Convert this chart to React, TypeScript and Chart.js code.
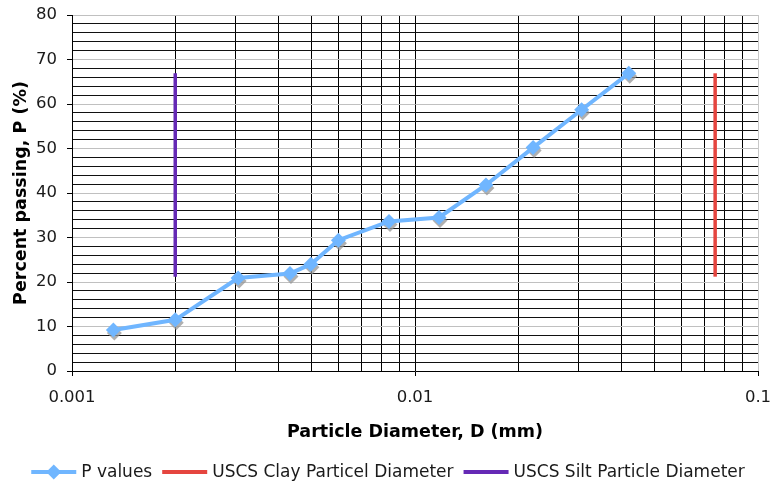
import React, { useEffect, useRef } from "react";
import { Chart, registerables } from "chart.js";

Chart.register(...registerables);

// ---- data ----
const diameters = [0.00132, 0.002, 0.00305, 0.00432, 0.00497, 0.00598, 0.0084, 0.01175, 0.0161, 0.0221, 0.0306, 0.042];
const pValues = [9.2, 11.5, 20.9, 21.9, 24.0, 29.4, 33.6, 34.5, 41.8, 50.2, 58.7, 66.9];
const clayX = [0.075, 0.075];
const siltX = [0.002, 0.002];
const boundaryY = [21.2, 66.9];
const xTickLabels = ["0.001", "0.01", "0.1"];
const yTickValues = [0, 10, 20, 30, 40, 50, 60, 70, 80];
const seriesNames = ["P values", "USCS Clay Particel Diameter", "USCS Silt Particle Diameter"];
const seriesColors = ["#70B6FF", "#E5453F", "#6529B5"];

const FONT = '"DejaVu Sans", Verdana, sans-serif';

function isDecade(v: number) {
  const l = Math.log10(v);
  return Math.abs(l - Math.round(l)) < 1e-6;
}

function diamond(ctx: CanvasRenderingContext2D, x: number, y: number, r: number) {
  ctx.beginPath();
  ctx.moveTo(x, y - r);
  ctx.lineTo(x + r, y);
  ctx.lineTo(x, y + r);
  ctx.lineTo(x - r, y);
  ctx.closePath();
  ctx.fill();
}

const shadowPlugin = {
  id: "markerShadow",
  beforeDatasetDraw(chart: any, args: any) {
    if (args.index !== 0) return;
    const ctx = chart.ctx as CanvasRenderingContext2D;
    ctx.save();
    ctx.fillStyle = "rgba(150,150,150,0.75)";
    for (const el of args.meta.data) {
      diamond(ctx, el.x + 1, el.y + 3, 7.5);
    }
    ctx.restore();
  },
};

const legendPlugin = {
  id: "customLegend",
  afterDraw(chart: any) {
    const ctx = chart.ctx as CanvasRenderingContext2D;
    ctx.save();
    ctx.font = `17px ${FONT}`;
    const lineLen = 45;
    const gapText = 5;
    const gapItem = 10;
    const widths = seriesNames.map((n) => ctx.measureText(n).width);
    const total =
      widths.reduce((a, w) => a + lineLen + gapText + w, 0) + gapItem * (seriesNames.length - 1);
    let x = 388 - total / 2;
    const y = 472;
    seriesNames.forEach((name, i) => {
      ctx.strokeStyle = seriesColors[i];
      ctx.lineWidth = 4;
      ctx.beginPath();
      ctx.moveTo(x, y);
      ctx.lineTo(x + lineLen, y);
      ctx.stroke();
      if (i === 0) {
        ctx.fillStyle = seriesColors[0];
        diamond(ctx, x + lineLen / 2, y, 7.5);
      }
      ctx.fillStyle = "#1a1a1a";
      ctx.textBaseline = "middle";
      ctx.textAlign = "left";
      ctx.fillText(name, x + lineLen + gapText, y + 1);
      x += lineLen + gapText + widths[i] + gapItem;
    });
    ctx.restore();
  },
};

export default function App() {
  const ref = useRef<HTMLCanvasElement | null>(null);

  useEffect(() => {
    if (!ref.current) return;
    const chart = new Chart(ref.current, {
      type: "scatter",
      data: {
        datasets: [
          {
            label: seriesNames[0],
            data: diameters.map((d, i) => ({ x: d, y: pValues[i] })),
            showLine: true,
            borderColor: seriesColors[0],
            backgroundColor: seriesColors[0],
            borderWidth: 4,
            pointStyle: "rectRot",
            pointRadius: 7.5,
            pointBorderWidth: 0,
            tension: 0,
          },
          {
            label: seriesNames[1],
            data: clayX.map((d, i) => ({ x: d, y: boundaryY[i] })),
            showLine: true,
            borderColor: seriesColors[1],
            backgroundColor: seriesColors[1],
            borderWidth: 3.5,
            pointRadius: 0,
          },
          {
            label: seriesNames[2],
            data: siltX.map((d, i) => ({ x: d, y: boundaryY[i] })),
            showLine: true,
            borderColor: seriesColors[2],
            backgroundColor: seriesColors[2],
            borderWidth: 3.5,
            pointRadius: 0,
          },
        ],
      },
      options: {
        responsive: false,
        animation: false,
        devicePixelRatio: 1,
        layout: { padding: { left: 0, right: 15, top: 15, bottom: 40 } },
        plugins: {
          legend: { display: false },
          tooltip: { enabled: false },
        },
        scales: {
          x: {
            type: "logarithmic",
            min: 0.001,
            max: 0.1,
            afterBuildTicks: (scale: any) => {
              const t: any[] = [];
              for (let e = -3; e <= -2; e++) {
                for (let s = 1; s <= 9; s++) {
                  t.push({ value: Number((s * Math.pow(10, e)).toFixed(8)) });
                }
              }
              t.push({ value: 0.1 });
              scale.ticks = t;
            },
            afterFit: (scale: any) => {
              scale.height = 74;
              scale.paddingLeft = 0;
              scale.paddingRight = 0;
            },
            ticks: {
              autoSkip: false,
              maxRotation: 0,
              padding: 12,
              color: "#1a1a1a",
              font: { family: FONT, size: 16.5 },
              callback: (v: any) => {
                const n = Number(v);
                if (!isDecade(n)) return "";
                return xTickLabels[Math.round(Math.log10(n)) + 3];
              },
            },
            grid: {
              color: (c: any) => (c.tick && Math.abs(c.tick.value - 0.1) < 1e-9 ? "#c8c8c8" : "#000"),
              lineWidth: 1,
              tickLength: 5,
              tickColor: (c: any) => (c.tick && isDecade(c.tick.value) ? "#000" : "rgba(0,0,0,0)"),
            },
            border: { color: "#000", width: 1 },
            title: {
              display: true,
              text: "Particle Diameter, D (mm)",
              color: "#000",
              font: { family: FONT, size: 17.5, weight: "bold" },
              padding: { top: 0, bottom: 2 },
            },
          },
          y: {
            type: "linear",
            min: 0,
            max: 80,
            afterBuildTicks: (scale: any) => {
              const t: any[] = [];
              for (let v = 0; v <= 80; v += 2) t.push({ value: v });
              scale.ticks = t;
            },
            afterFit: (scale: any) => {
              scale.width = 72;
              scale.paddingTop = 0;
              scale.paddingBottom = 0;
            },
            ticks: {
              autoSkip: false,
              padding: 10,
              color: "#1a1a1a",
              font: { family: FONT, size: 16.5 },
              callback: (v: any) => {
                const n = Number(v);
                return yTickValues.includes(n) ? String(n) : "";
              },
            },
            grid: {
              color: (c: any) => (c.tick && c.tick.value % 10 === 0 ? "#c0c0c0" : "#111"),
              lineWidth: 1,
              tickLength: 5,
              tickColor: (c: any) => (c.tick && c.tick.value % 10 === 0 ? "#000" : "rgba(0,0,0,0)"),
            },
            border: { color: "#000", width: 1 },
            title: {
              display: true,
              text: "Percent passing, P (%)",
              color: "#000",
              font: { family: FONT, size: 17.5, weight: "bold" },
              padding: { top: 11, bottom: 0 },
            },
          },
        },
      },
      plugins: [shadowPlugin, legendPlugin],
    } as any);
    return () => chart.destroy();
  }, []);

  return (
    <div style={{ position: "absolute", left: 0, top: 0, width: 773, height: 485, background: "#fff" }}>
      <canvas ref={ref} width={773} height={485} style={{ width: 773, height: 485, display: "block" }} />
    </div>
  );
}
